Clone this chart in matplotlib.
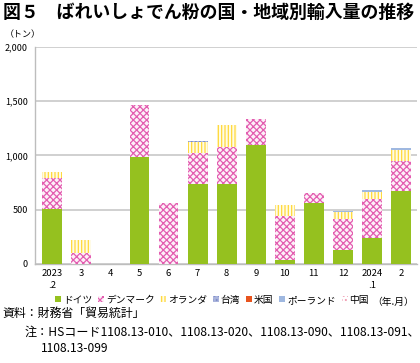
import matplotlib
matplotlib.use("Agg")
import matplotlib.pyplot as plt
import numpy as np
from matplotlib.patches import Patch

plt.rcParams['font.family'] = ['Noto Sans CJK JP', 'DejaVu Sans']
plt.rcParams['hatch.linewidth'] = 0.9

months = ["2023\n.2", "3", "4", "5", "6", "7", "8", "9", "10", "11", "12", "2024\n.1", "2"]
germany =     [505,   0, 0, 985,   0, 740, 740, 1095,  40, 565, 125, 235, 670]
denmark =     [282, 100, 3, 475, 560, 280, 333,  243, 405,  90, 287, 365, 274]
netherlands = [ 62, 121, 0,   0,   0, 100, 207,    0, 100,   0,  68,  64, 105]
taiwan =      [  0,   0, 0,   0,   0,   8,   0,    0,   0,   0,   0,   0,   0]
usa =         [  0,   0, 0,   0,   0,   0,   0,    0,   0,   0,   0,   0,   0]
poland =      [  0,   0, 0,   0,   0,   0,   0,    0,   0,   0,  12,  18,  18]
china =       [  0,   0, 0,   0,   0,   0,   0,    0,   0,   0,   0,   0,   0]

series = [
    ("ドイツ", germany, dict(color="#95c11f", linewidth=0)),
    ("デンマーク", denmark, dict(facecolor="#fdf0f8", edgecolor="#e35db0", hatch="xxxxx", linewidth=0)),
    ("オランダ", netherlands, dict(facecolor="#fffbe6", edgecolor="#ffd93a", hatch="|||||", linewidth=0)),
    ("台湾", taiwan, dict(facecolor="#aab4dc", edgecolor="#7d8cc8", hatch="....", linewidth=0)),
    ("米国", usa, dict(color="#e8541e", linewidth=0)),
    ("ポーランド", poland, dict(color="#9fb8e0", linewidth=0)),
    ("中国", china, dict(facecolor="white", edgecolor="#f09ab0", hatch="....", linewidth=0)),
]

fig = plt.figure(figsize=(4.2, 3.63), dpi=100)
ax = fig.add_axes([0.083, 0.273, 0.910, 0.598])

x = np.arange(len(months))
bottom = np.zeros(len(months))
handles = []
for name, vals, style in series:
    v = np.array(vals, dtype=float)
    ax.bar(x, v, width=0.68, bottom=bottom, zorder=3, **style)
    bottom += v
    handles.append(Patch(label=name, **style))

ax.set_ylim(0, 2000)
ax.set_xlim(-0.6, len(months) - 0.45)
ax.set_yticks([0, 500, 1000, 1500, 2000])
ax.set_yticklabels(["0", "500", "1,000", "1,500", "2,000"], fontsize=6.5)
ax.set_xticks(x)
ax.set_xticklabels(months, fontsize=6.8, linespacing=1.3)
ax.tick_params(axis='both', length=0, pad=4)
ax.tick_params(axis='y', pad=5)
ax.grid(axis='y', color="#c8c8c8", linewidth=1.2, zorder=0)
for s in ["top", "right"]:
    ax.spines[s].set_visible(False)
for s in ["left", "bottom"]:
    ax.spines[s].set_color("#bdbdbd")
    ax.spines[s].set_linewidth(1.0)

fig.text(0.006, 0.965, "図５　ばれいしょでん粉の国・地域別輸入量の推移",
         fontsize=12.9, fontweight="bold", va="center", ha="left")
fig.text(0.055, 0.905, "（トン）", fontsize=6.5, ha="center", va="center")

leg = fig.legend(handles=handles, loc="center", bbox_to_anchor=(0.505, 0.174), ncol=7,
                 frameon=False, fontsize=7.0, handlelength=0.6, handleheight=0.6,
                 handletextpad=0.2, columnspacing=0.6)
fig.text(0.936, 0.168, "（年.月）", fontsize=7.0, ha="center", va="center")

fig.text(0.007, 0.138, "資料：財務省「貿易統計」", fontsize=8.6, ha="left", va="center")
fig.text(0.058, 0.086, "注：HSコード1108.13-010、1108.13-020、1108.13-090、1108.13-091、",
         fontsize=8.7, ha="left", va="center")
fig.text(0.097, 0.041, "1108.13-099", fontsize=8.7, ha="left", va="center")

fig.savefig("out.png", dpi=100)
